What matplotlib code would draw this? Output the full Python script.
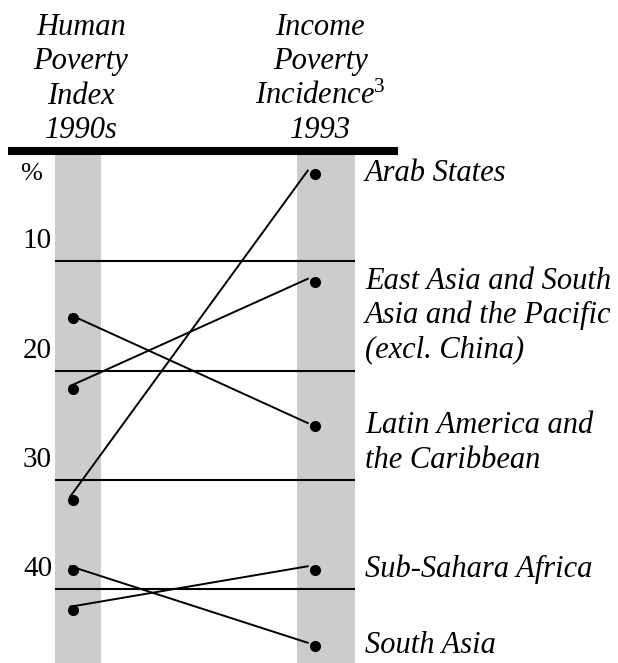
import matplotlib
matplotlib.use("Agg")
import matplotlib.pyplot as plt

# values (percent, axis runs downward)
regions = ["Arab States",
           "East Asia and South\nAsia and the Pacific\n(excl. China)",
           "Latin America and\nthe Caribbean",
           "Sub-Sahara Africa",
           "South Asia"]
hpi = [31.8, 21.7, 15.2, 41.9, 38.2]       # Human Poverty Index 1990s
income = [2.0, 11.9, 25.1, 38.2, 45.2]     # Income Poverty Incidence 1993
ticks = [10, 20, 30, 40]

plt.rcParams['font.family'] = ['Liberation Serif', 'DejaVu Serif']
plt.rcParams['mathtext.fontset'] = 'custom'
plt.rcParams['mathtext.rm'] = 'Liberation Serif'
plt.rcParams['mathtext.it'] = 'Liberation Serif:italic'

fig = plt.figure(figsize=(6.18, 6.63), dpi=100)
ax = fig.add_axes([55 / 618, 0, 300 / 618, 511 / 663])
ax.set_xlim(-0.0757, 1.1655)
ax.set_ylim(46.75, 0)
ax.set_axis_off()

PX = 1 / 10.93        # one pixel in y data units
LINE = 34.3 * PX      # baseline-to-baseline distance of stacked text
BIG = 22
SMALL = 21


def stack(x, y0, text, **kw):
    for i, s in enumerate(text.split("\n")):
        ax.text(x, y0 + i * LINE, s, va='baseline', fontsize=BIG,
                style='italic', clip_on=False, **kw)


# grey columns
ax.axvspan(-0.0757, 0.1146, color='#cccccc', lw=0, zorder=0)
ax.axvspan(0.9247, 1.1655, color='#cccccc', lw=0, zorder=0)

# grid rules and tick labels sitting on them
for t in ticks:
    ax.axhline(t, color='black', lw=1.5, zorder=1)
    ax.text(-0.01, t - 13 * PX, str(t), transform=ax.get_yaxis_transform(),
            ha='right', va='baseline', fontsize=SMALL)
ax.text(-0.043, 28 * PX, "%", transform=ax.get_yaxis_transform(),
        ha='right', va='baseline', fontsize=SMALL - 2)

# thick rule under the headers
ax.plot([-0.27, 1.343], [-0.1, -0.1], color='black', lw=5.8,
        solid_capstyle='butt', clip_on=False, zorder=3)

# slope lines + dots
for h, inc in zip(hpi, income):
    ax.plot([-0.012, 0.97], [h - 0.3, inc - 0.3], color='black', lw=1.4, zorder=2)
ax.plot([0] * len(hpi), hpi, 'o', color='black', ms=7, zorder=4)
ax.plot([1] * len(income), income, 'o', color='black', ms=7, zorder=4)

# region labels on the right
for lab, inc in zip(regions, income):
    stack(1.207, inc + 7 * PX, lab, ha='left')

# column headers
head_y = (35 - 152) * PX
stack(0.032, head_y, "Human\nPoverty\nIndex\n1990s", ha='center')
stack(1.021, head_y, "Income\nPoverty\nIncidence$^{\\mathit{3}}$\n1993", ha='center')

fig.savefig("out.png", dpi=100)
